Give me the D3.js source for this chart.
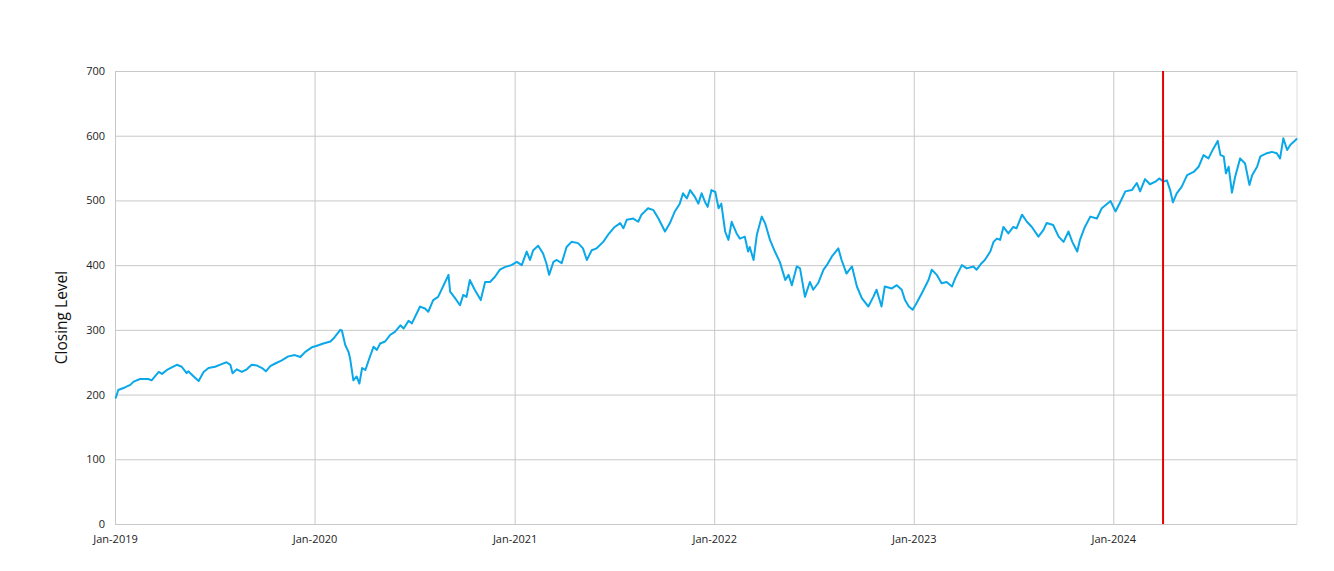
<!DOCTYPE html>
<html>
<head>
<meta charset="utf-8">
<script src="https://cdn.jsdelivr.net/npm/d3@7"></script>
<style>
  html, body { margin: 0; padding: 0; background: #fff; }
  svg { display: block; }
</style>
</head>
<body>
<svg id="chart" width="1334" height="571"></svg>
<script>
// ---- Data ----
const dates = [
  // 2019
  "2019-01-02","2019-01-07","2019-01-19","2019-01-29","2019-02-04","2019-02-16","2019-03-03","2019-03-09",
  "2019-03-22","2019-03-28","2019-04-06","2019-04-24","2019-05-03","2019-05-12","2019-05-15","2019-05-25",
  "2019-06-03","2019-06-12","2019-06-21","2019-07-03","2019-07-15","2019-07-24","2019-07-31","2019-08-04",
  "2019-08-12","2019-08-21","2019-08-30","2019-09-08","2019-09-17","2019-09-27","2019-10-04","2019-10-12",
  "2019-10-21","2019-11-02","2019-11-14","2019-11-26","2019-12-06","2019-12-15","2019-12-27",
  // 2020
  "2020-01-04","2020-01-17","2020-01-30","2020-02-05","2020-02-17","2020-02-20","2020-02-26","2020-03-03",
  "2020-03-06","2020-03-12","2020-03-18","2020-03-23","2020-03-28","2020-04-03","2020-04-09","2020-04-18",
  "2020-04-24","2020-04-30","2020-05-09","2020-05-18","2020-05-27","2020-06-06","2020-06-12","2020-06-21",
  "2020-06-27","2020-07-12","2020-07-21","2020-07-27","2020-08-05","2020-08-14","2020-08-23","2020-09-02",
  "2020-09-05","2020-09-14","2020-09-23","2020-09-29","2020-10-05","2020-10-11","2020-10-20","2020-10-31",
  "2020-11-08","2020-11-17","2020-11-26","2020-12-05","2020-12-14","2020-12-26",
  // 2021
  "2021-01-05","2021-01-14","2021-01-23","2021-01-29","2021-02-04","2021-02-13","2021-02-22","2021-02-28",
  "2021-03-05","2021-03-13","2021-03-19","2021-03-28","2021-04-06","2021-04-15","2021-04-27","2021-05-06",
  "2021-05-13","2021-05-22","2021-05-31","2021-06-12","2021-06-21","2021-07-03","2021-07-13","2021-07-19",
  "2021-07-25","2021-08-06","2021-08-15","2021-08-21","2021-09-02","2021-09-12","2021-09-21","2021-10-03",
  "2021-10-12","2021-10-21","2021-10-30","2021-11-05","2021-11-12","2021-11-18","2021-11-27","2021-12-03",
  "2021-12-09","2021-12-15","2021-12-20","2021-12-27",
  // 2022
  "2022-01-03","2022-01-09","2022-01-14","2022-01-21","2022-01-27","2022-02-02","2022-02-11","2022-02-17",
  "2022-02-26","2022-03-04","2022-03-07","2022-03-14","2022-03-20","2022-03-29","2022-04-04","2022-04-13",
  "2022-04-22","2022-05-01","2022-05-11","2022-05-17","2022-05-23","2022-06-01","2022-06-07","2022-06-16",
  "2022-06-25","2022-07-01","2022-07-10","2022-07-20","2022-07-26","2022-08-04","2022-08-16","2022-08-22",
  "2022-08-31","2022-09-10","2022-09-19","2022-09-28","2022-10-10","2022-10-19","2022-10-25","2022-11-03",
  "2022-11-09","2022-11-22","2022-12-01","2022-12-10","2022-12-16","2022-12-23","2022-12-30",
  // 2023
  "2023-01-06","2023-01-16","2023-01-28","2023-02-03","2023-02-12","2023-02-21","2023-03-02","2023-03-12",
  "2023-03-18","2023-03-30","2023-04-08","2023-04-20","2023-04-26","2023-05-05","2023-05-11","2023-05-21",
  "2023-05-27","2023-06-02","2023-06-08","2023-06-14","2023-06-23","2023-07-02","2023-07-08","2023-07-18",
  "2023-07-27","2023-08-05","2023-08-17","2023-08-26","2023-09-01","2023-09-13","2023-09-23","2023-10-02",
  "2023-10-11","2023-10-18","2023-10-27","2023-11-01","2023-11-10","2023-11-20","2023-12-02","2023-12-11",
  "2023-12-27",
  // 2024
  "2024-01-05","2024-01-14","2024-01-23","2024-02-04","2024-02-13","2024-02-19","2024-02-28","2024-03-08",
  "2024-03-18","2024-03-25","2024-04-02","2024-04-08","2024-04-14","2024-04-19","2024-04-26","2024-05-05",
  "2024-05-15","2024-05-27","2024-06-05","2024-06-14","2024-06-23","2024-07-02","2024-07-10","2024-07-15",
  "2024-07-21","2024-07-25","2024-07-30","2024-08-05","2024-08-11","2024-08-20","2024-08-29","2024-09-06",
  "2024-09-11","2024-09-20","2024-09-26","2024-10-08","2024-10-17","2024-10-26","2024-11-01","2024-11-07",
  "2024-11-14","2024-11-20","2024-11-29","2024-12-02"
];
const closing = [
  // 2019
  194,207,211,215,220,224,224,222,
  235,232,238,246,243,233,236,228,
  221,235,241,243,247,250,246,233,
  239,235,239,246,245,241,236,244,
  248,253,259,261,258,266,273,
  // 2020
  275,279,282,287,300,299,277,266,
  256,222,228,217,241,238,253,274,
  269,279,282,292,297,307,302,314,
  310,336,333,328,346,351,367,385,
  359,349,338,354,351,377,362,346,
  374,374,382,393,397,400,
  // 2021
  405,400,421,408,423,430,418,403,
  385,405,408,403,428,436,434,426,
  408,423,426,436,447,459,465,457,
  470,472,467,478,488,485,472,452,
  465,483,495,511,503,516,505,495,
  511,498,490,516,
  // 2022
  513,488,495,452,439,467,449,441,
  444,421,428,408,447,475,465,439,
  421,405,377,385,369,398,395,351,
  374,362,372,393,400,413,426,408,
  387,398,367,349,336,351,362,336,
  367,364,369,362,346,336,331,
  // 2023
  341,357,377,393,385,372,374,367,
  380,400,395,398,393,403,408,421,
  436,441,439,459,449,459,457,478,
  467,459,444,454,465,462,444,436,
  452,436,421,439,459,475,472,488,
  499,
  // 2024
  483,498,514,516,527,514,533,525,
  529,534,529,531,516,497,511,521,
  539,544,552,570,565,580,592,570,
  568,542,552,512,537,565,557,524,
  539,552,568,573,575,573,565,596,
  578,586,593,596
];
const markerDate = "2024-04-01";
const yTicks = [0, 100, 200, 300, 400, 500, 600, 700];
const xTickDates = ["2019-01-01","2020-01-01","2021-01-01","2022-01-01","2023-01-01","2024-01-01"];
const xDomain = ["2019-01-01", "2024-12-02"];
const yLabel = "Closing Level";

// ---- Chart ----
const parse = d3.timeParse("%Y-%m-%d");
const data = dates.map((d, i) => ({ date: parse(d), value: closing[i] }));

const margin = { top: 71, right: 37, bottom: 47, left: 115 };
const W = 1334, H = 571;
const iw = W - margin.left - margin.right;
const ih = H - margin.top - margin.bottom;

const svg = d3.select("#chart");
const g = svg.append("g").attr("transform", `translate(${margin.left},${margin.top})`);

const x = d3.scaleTime().domain(xDomain.map(parse)).range([0, iw]);
const y = d3.scaleLinear().domain([0, 700]).range([ih, 0]);

const gridColor = "#c8c8c8";
const font = "'Open Sans', 'Noto Sans', sans-serif";

// horizontal gridlines + y tick labels
g.append("g")
  .call(d3.axisLeft(y).tickValues(yTicks).tickSize(-iw).tickFormat(d3.format("d")).tickPadding(10))
  .call(s => s.select(".domain").remove())
  .call(s => s.selectAll(".tick line").attr("stroke", gridColor).attr("stroke-width", 1))
  .call(s => s.selectAll(".tick text").attr("fill", "#222").style("font-family", font).style("font-size", "11px"));

// vertical gridlines + x tick labels
g.append("g")
  .attr("transform", `translate(0,${ih})`)
  .call(d3.axisBottom(x).tickValues(xTickDates.map(parse)).tickSize(-ih).tickFormat(d3.timeFormat("%b-%Y")).tickPadding(11))
  .call(s => s.select(".domain").remove())
  .call(s => s.selectAll(".tick line").attr("stroke", gridColor).attr("stroke-width", 1))
  .call(s => s.selectAll(".tick text").attr("fill", "#222").style("font-family", font).style("font-size", "11px"));

// right border
g.append("line")
  .attr("x1", x(parse(xDomain[1]))).attr("x2", x(parse(xDomain[1])))
  .attr("y1", 0).attr("y2", ih)
  .attr("stroke", "#dcdcdc").attr("stroke-width", 1);

// data line
const line = d3.line().x(d => x(d.date)).y(d => y(d.value)).curve(d3.curveLinear);
g.append("path")
  .datum(data)
  .attr("fill", "none")
  .attr("stroke", "#0aa8e8")
  .attr("stroke-width", 2)
  .attr("stroke-linejoin", "round")
  .attr("d", line);

// red marker line
g.append("line")
  .attr("x1", x(parse(markerDate))).attr("x2", x(parse(markerDate)))
  .attr("y1", 0).attr("y2", ih)
  .attr("stroke", "#e60000").attr("stroke-width", 2);

// y label
svg.append("text")
  .attr("transform", `translate(67,${margin.top + ih / 2 + 20}) rotate(-90)`)
  .attr("text-anchor", "middle")
  .style("font-family", font)
  .style("font-size", "15.5px")
  .attr("fill", "#111")
  .text(yLabel);
</script>
</body>
</html>
